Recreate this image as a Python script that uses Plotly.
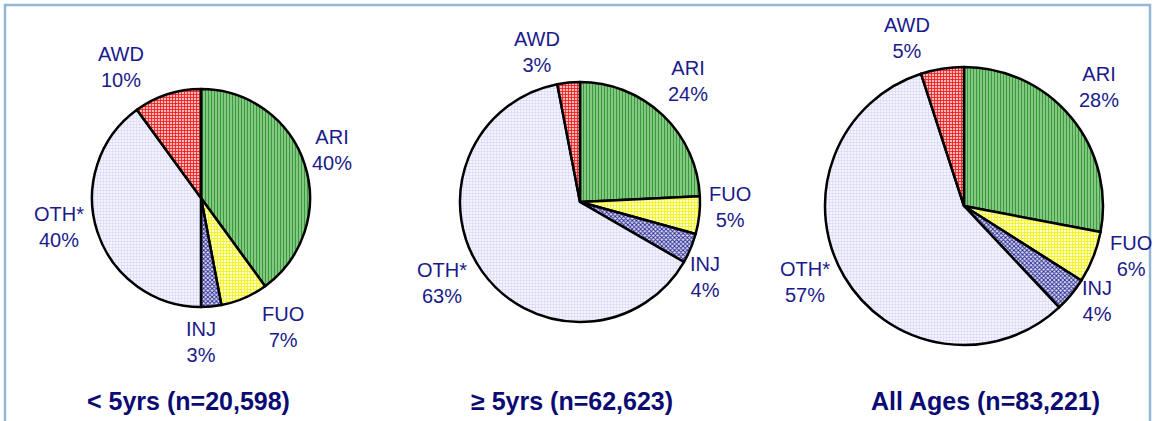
import math
import plotly.graph_objects as go

# ---- data ----
categories = ["ARI", "FUO", "INJ", "OTH*", "AWD"]
under5_pct = [40, 7, 3, 40, 10]
over5_pct = [24, 5, 4, 63, 3]
allages_pct = [28, 6, 4, 57, 5]
panel_titles = ["< 5yrs (n=20,598)", "\u2265 5yrs (n=62,623)", "All Ages (n=83,221)"]

# ---- layout / style ----
W, H = 1156, 421
pies = [  # centre x, centre y (px from top), radius px
    (201, 198, 109),
    (580, 202, 120),
    (964, 206, 139),
]
title_pos = [(188, 401), (572, 401), (985, 401)]
# manual label nudges (px) relative to the automatic outside position, per pie
label_nudges = [
    [(-6, -3), (24, -5), (-13, 4), (-5, -16), (-35, 6)],
    [(-2, -6), (-1, -12), (-19, 15), (-9, -11), (-29, 1)],
    [(-2, -6), (4, -15), (-4, -18), (-7, -14), (-30, 2)],
]
label_color = "#1a1a8a"
title_color = "#0b0b74"
font_family = "Liberation Sans, Arial, sans-serif"
label_size = 20
title_size = 25

fill_colors = ["#9ad89a", "#ffffd0", "#e0e0f4", "#f4f4ff", "#ffb8b8"]
pattern_shapes = ["|", "+", "x", "+", "+"]
pattern_fg = ["#3a9a3a", "#f2f200", "#2e2e96", "#d4d4f4", "#ee2020"]
pattern_solidity = [0.5, 0.45, 0.55, 0.35, 0.5]

datasets = [under5_pct, over5_pct, allages_pct]

fig = go.Figure()
annotations = []
for (cx, cy, r), vals, title, tpos, nudges in zip(pies, datasets, panel_titles,
                                                   title_pos, label_nudges):
    fig.add_trace(go.Pie(
        labels=categories,
        values=vals,
        sort=False,
        direction="clockwise",
        rotation=0,
        textinfo="none",
        hoverinfo="label+value",
        showlegend=False,
        domain=dict(x=[(cx - r) / W, (cx + r) / W],
                    y=[(H - cy - r) / H, (H - cy + r) / H]),
        marker=dict(
            colors=fill_colors,
            line=dict(color="black", width=2.5),
            pattern=dict(shape=pattern_shapes, fgcolor=pattern_fg,
                         bgcolor=fill_colors, size=3,
                         solidity=pattern_solidity, fillmode="replace"),
        ),
    ))
    # outside labels placed along each slice's mid-angle
    total = sum(vals)
    cum = 0.0
    hw, hh, gap = 21, 21, 9
    for lab, v, (ndx, ndy) in zip(categories, vals, nudges):
        mid = (cum + v / 2) / total * 2 * math.pi
        cum += v
        ux, uy = math.sin(mid), -math.cos(mid)
        d = r + abs(ux) * hw + abs(uy) * hh + gap
        lx, ly = cx + ux * d + ndx, cy + uy * d + ndy
        annotations.append(dict(
            x=lx / W, y=1 - ly / H, xref="paper", yref="paper",
            text=f"{lab}<br>{v}%", showarrow=False,
            xanchor="center", yanchor="middle", align="center",
            font=dict(family=font_family, size=label_size, color=label_color),
        ))
    annotations.append(dict(
        x=tpos[0] / W, y=1 - tpos[1] / H, xref="paper", yref="paper",
        text=f"<b>{title}</b>", showarrow=False,
        xanchor="center", yanchor="middle",
        font=dict(family=font_family, size=title_size, color=title_color),
    ))

fig.update_layout(
    width=W, height=H, autosize=False,
    margin=dict(l=0, r=0, t=0, b=0),
    paper_bgcolor="white", plot_bgcolor="white",
    annotations=annotations,
    shapes=[dict(type="rect", xref="paper", yref="paper",
                 x0=5 / W, x1=1150 / W, y0=-0.1, y1=1 - 5 / H,
                 line=dict(color="#94b6d6", width=2.5), layer="below")],
)

fig.write_html("out.html", config={"displayModeBar": False},
               post_script="document.body.style.margin='0';")
